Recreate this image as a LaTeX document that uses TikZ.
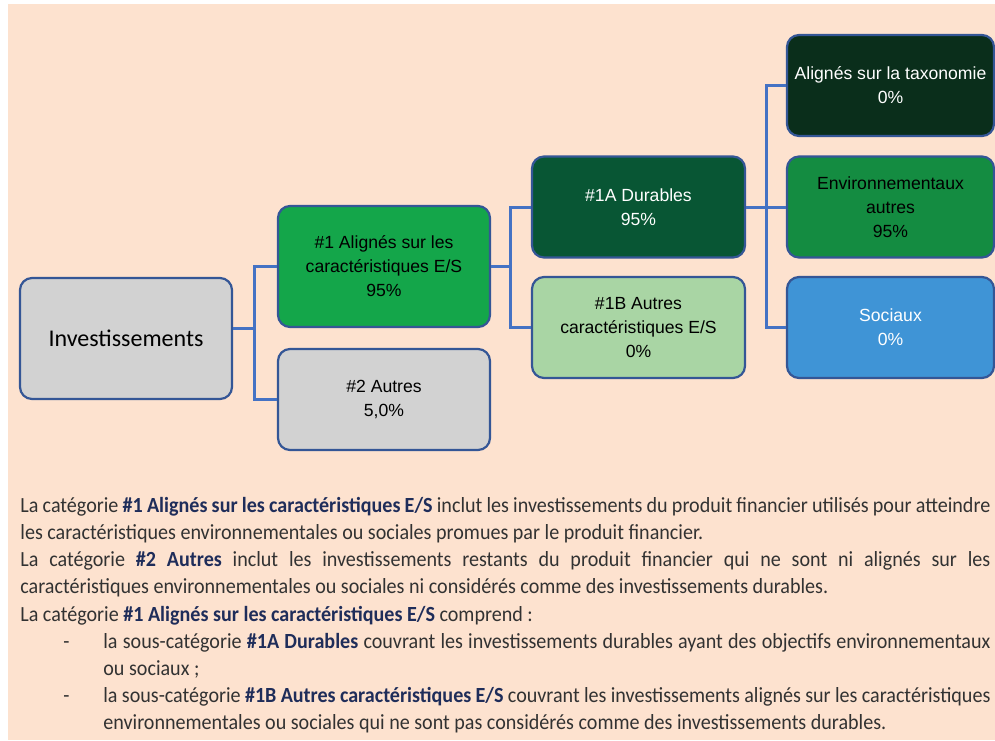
\documentclass[tikz,border=0pt]{standalone}
\usepackage{fontspec}
\setmainfont{Liberation Sans}
\newfontfamily\calibrifont{Carlito}
\newfontfamily\bodyfont[FakeStretch=0.93]{Carlito}
\usepackage{xcolor}
\usepackage{tikz}
\definecolor{peach}{RGB}{253,226,207}
\definecolor{boxgray}{RGB}{210,210,210}
\definecolor{boxedge}{RGB}{52,86,150}
\definecolor{linkblue}{RGB}{68,114,196}
\definecolor{greenmain}{RGB}{20,166,74}
\definecolor{greendark}{RGB}{8,86,52}
\definecolor{greenlight}{RGB}{169,213,164}
\definecolor{greendeep}{RGB}{10,46,27}
\definecolor{greenenv}{RGB}{20,140,65}
\definecolor{socblue}{RGB}{63,148,214}
\definecolor{textgray}{RGB}{50,50,50}
\definecolor{navy}{RGB}{31,45,90}
\newcommand{\hl}[1]{\textcolor{navy}{\textbf{#1}}}
\newcommand{\dashitem}{\noindent\llap{\makebox[20pt][l]{-}}}

\begin{document}
\begin{tikzpicture}[x=0.5pt,y=-0.5pt,
    box/.style={draw=boxedge,line width=1.1pt,rounded corners=6pt,inner sep=0pt,
      align=center,font=\fontsize{8.8}{12}\selectfont,text=black},
    link/.style={draw=linkblue,line width=1.5pt}]
    % Page and background
    \useasboundingbox (0,0) rectangle (995,740);
    \fill[white] (0,0) rectangle (995,740);
    \fill[peach] (8,4) rectangle (995,740);
    % Boxes
    \node[box,fill=boxgray,minimum width=106pt,minimum height=60.5pt,
      font=\fontsize{12}{14}\calibrifont] (invest) at (126,338.5) {Investissements};
    \node[box,fill=greenmain,minimum width=106pt,minimum height=60.5pt] (align1) at (384,266.5)
      {\#1 Alignés sur les\\caractéristiques E/S\\95\%};
    \node[box,fill=boxgray,minimum width=106pt,minimum height=50.5pt] (other2) at (384,399.5)
      {\#2 Autres\\5,0\%};
    \node[box,fill=greendark,text=white,minimum width=106.5pt,minimum height=50.5pt] (durable) at (638.5,207)
      {\#1A Durables\\95\%};
    \node[box,fill=greenlight,minimum width=106.5pt,minimum height=50.5pt] (other1b) at (638.5,327.5)
      {\#1B Autres\\caractéristiques E/S\\0\%};
    \node[box,fill=greendeep,text=white,minimum width=103.5pt,minimum height=50.5pt] (taxo) at (890.5,85.5)
      {Alignés sur la taxonomie\\0\%};
    \node[box,fill=greenenv,minimum width=103.5pt,minimum height=50.5pt] (envir) at (890.5,207)
      {Environnementaux\\autres\\95\%};
    \node[box,fill=socblue,text=white,minimum width=103.5pt,minimum height=50.5pt] (social) at (890.5,327.5)
      {Sociaux\\0\%};
    % Connectors
    \coordinate (fork1) at (254,328);
    \coordinate (fork2) at (510,266.5);
    \coordinate (fork3) at (766,207);
    \draw[link] ([yshift=5.25pt]invest.east) -- (fork1);
    \draw[link] (align1.west) -| (fork1) |- (other2.west);
    \draw[link] (align1.east) -- (fork2);
    \draw[link] (durable.west) -| (fork2) |- (other1b.west);
    \draw[link] (durable.east) -- (envir.west);
    \draw[link] (taxo.west) -| (fork3) |- (social.west);
    % Explanation text
    \node[anchor=north west,inner sep=0pt,text width=485pt,align=justify,text=textgray,
      font=\fontsize{10.8}{13.55}\bodyfont] (notes) at (20,497) {%
      La catégorie \hl{\#1 Alignés sur les caractéristiques E/S} inclut les investissements du produit financier utilisés pour atteindre\linebreak
      les caractéristiques environnementales ou sociales promues par le produit financier.\par
      La catégorie \hl{\#2 Autres} inclut les investissements restants du produit financier qui ne sont ni alignés sur les\linebreak
      caractéristiques environnementales ou sociales ni considérés comme des investissements durables.\par
      La catégorie \hl{\#1 Alignés sur les caractéristiques E/S} comprend :\par
      \leftskip=41.5pt
      \dashitem la sous-catégorie \hl{\#1A Durables} couvrant les investissements durables ayant des objectifs environnementaux\linebreak
      ou sociaux ;\par
      \dashitem la sous-catégorie \hl{\#1B Autres caractéristiques E/S} couvrant les investissements alignés sur les caractéristiques\linebreak
      environnementales ou sociales qui ne sont pas considérés comme des investissements durables.\par};
  \end{tikzpicture}
\end{document}
